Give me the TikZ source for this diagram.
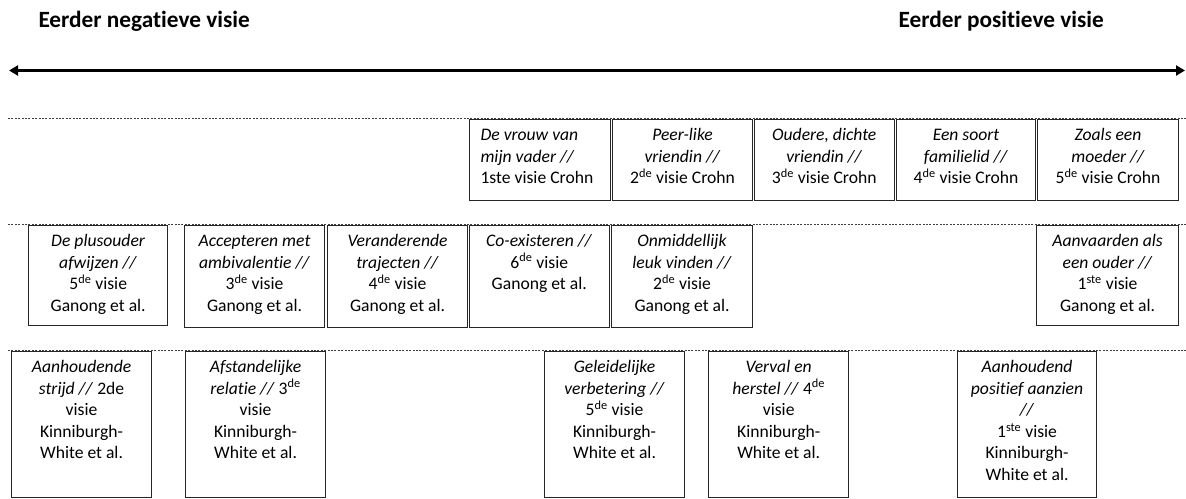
\documentclass[tikz,border=0pt]{standalone}
\usepackage{fontspec}
\setmainfont{Carlito}[Ligatures=NoCommon]
\usetikzlibrary{arrows.meta}
\newcommand{\supx}[1]{\textsuperscript{#1}}
\newcommand{\bxc}[3]{\parbox[c][#2pt][t]{#1pt}{\centering\rule{0pt}{21.3pt}#3}}
\newcommand{\bxl}[3]{\parbox[c][#2pt][t]{#1pt}{\raggedright\leftskip=11pt\rule{0pt}{21.3pt}#3}}
\begin{document}
\begin{tikzpicture}[x=1pt,y=-1pt,
  every node/.style={font=\fontsize{17.6}{21.6}\selectfont},
  vbox/.style={draw=black!85, line width=1.1pt, inner sep=0pt, anchor=north west, fill=white},
  titletext/.style={font=\fontsize{23.3}{28}\selectfont\bfseries, inner sep=0pt},
  dotline/.style={draw=black!75, line width=0.7pt, dash pattern=on 2pt off 1.4pt},
  axis/.style={line width=3.5pt, {Triangle[length=9pt,width=10pt]}-{Triangle[length=9pt,width=10pt]}}]
\useasboundingbox (0,0) rectangle (1186,498);
% titles
\node[titletext, anchor=base west] (tneg) at (38.3,27.3) {Eerder negatieve visie};
\node[titletext, anchor=base east] (tpos) at (1104,27.3) {Eerder positieve visie};
% axis
\coordinate (axl) at (9,70.5);
\coordinate (axr) at (1185,70.5);
\draw[axis] (axl) -- (axr);
% dotted guide lines
\coordinate (d1a) at (8,118.7); \coordinate (d1b) at (1186,118.7);
\coordinate (d2a) at (8,224.7); \coordinate (d2b) at (1186,224.7);
\coordinate (d3a) at (8,350.7); \coordinate (d3b) at (1186,350.7);
\draw[dotline] (d1a) -- (d1b);
\draw[dotline] (d2a) -- (d2b);
\draw[dotline] (d3a) -- (d3b);
% row 1 (Crohn)
\node[vbox] (c1) at (469,118.7) {\bxl{141}{81}{\textit{De vrouw van}\\ \textit{mijn vader //}\\ 1ste visie Crohn}};
\node[vbox] (c2) at (612.3,118.7) {\bxc{139.4}{81}{\textit{Peer-like}\\ \textit{vriendin //}\\ 2\supx{de} visie Crohn}};
\node[vbox] (c3) at (753.7,118.7) {\bxc{140}{81}{\textit{Oudere, dichte}\\ \textit{vriendin //}\\ 3\supx{de} visie Crohn}};
\node[vbox] (c4) at (895.7,118.7) {\bxc{139.6}{81}{\textit{Een soort}\\ \textit{familielid //}\\ 4\supx{de} visie Crohn}};
\node[vbox] (c5) at (1037.3,118.7) {\bxc{140.4}{81}{\textit{Zoals een}\\ \textit{moeder //}\\ 5\supx{de} visie Crohn}};
% row 2 (Ganong)
\node[vbox] (g1) at (28,224.7) {\bxc{139.3}{100.6}{\textit{De plusouder}\\ \textit{afwijzen //}\\ 5\supx{de} visie\\ Ganong et al.}};
\node[vbox] (g2) at (183.7,224.7) {\bxc{140.6}{102}{\textit{Accepteren met}\\ \textit{ambivalentie //}\\ 3\supx{de} visie\\ Ganong et al.}};
\node[vbox] (g3) at (327.3,224.7) {\bxc{139.4}{102}{\textit{Veranderende}\\ \textit{trajecten //}\\ 4\supx{de} visie\\ Ganong et al.}};
\node[vbox] (g4) at (468.7,224.7) {\bxc{140}{102}{\textit{Co-existeren //}\\ 6\supx{de} visie\\ Ganong et al.}};
\node[vbox] (g5) at (611.3,224.7) {\bxc{140.4}{102}{\textit{Onmiddellijk}\\ \textit{leuk vinden //}\\ 2\supx{de} visie\\ Ganong et al.}};
\node[vbox] (g6) at (1036.3,224.7) {\bxc{141.4}{100.6}{\textit{Aanvaarden als}\\ \textit{een ouder //}\\ 1\supx{ste} visie\\ Ganong et al.}};
% row 3 (Kinniburgh-White)
\node[vbox] (k1) at (11.3,350.7) {\bxc{139.4}{145.8}{\textit{Aanhoudende}\\ \textit{strijd //} 2de\\ visie\\ Kinniburgh-\\ White et al.}};
\node[vbox] (k2) at (185.3,350.7) {\bxc{139.4}{145.8}{\textit{Afstandelijke}\\ \textit{relatie //} 3\supx{de}\\ visie\\ Kinniburgh-\\ White et al.}};
\node[vbox] (k3) at (544,350.7) {\bxc{140}{145.8}{\textit{Geleidelijke}\\ \textit{verbetering //}\\ 5\supx{de} visie\\ Kinniburgh-\\ White et al.}};
\node[vbox] (k4) at (708.3,350.7) {\bxc{139.7}{145.8}{\textit{Verval en}\\ \textit{herstel //} 4\supx{de}\\ visie\\ Kinniburgh-\\ White et al.}};
\node[vbox] (k5) at (956.7,350.7) {\bxc{139.6}{145.8}{\textit{Aanhoudend}\\ \textit{positief aanzien}\\ \textit{//}\\ 1\supx{ste} visie\\ Kinniburgh-\\ White et al.}};
\end{tikzpicture}
\end{document}
